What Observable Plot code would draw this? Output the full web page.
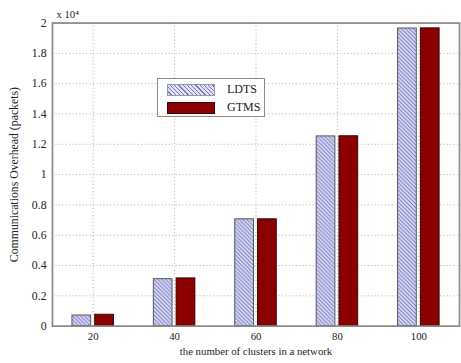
<!DOCTYPE html>
<html>
<head>
<meta charset="utf-8">
<script src="https://cdn.jsdelivr.net/npm/d3@7"></script>
<script src="https://cdn.jsdelivr.net/npm/@observablehq/plot@0.6"></script>
<style>
  html, body { margin: 0; padding: 0; background: #fff; overflow: hidden; }
  #wrap { position: relative; width: 461px; height: 363px; overflow: hidden; }
  #wrap svg, #wrap svg text { font-family: "Liberation Serif", "Times New Roman", serif !important; }
  #legend {
    position: absolute; left: 157px; top: 78px; width: 106px; height: 37px;
    border: 1.5px solid #8c8c8c; background: #fff; box-sizing: content-box;
    font-family: "Liberation Serif", serif; font-size: 12px; color: #222;
  }
  .item { position: absolute; left: 9px; display: flex; align-items: center; }
  .sw { width: 48px; height: 12px; border: 1px solid #444; box-sizing: border-box; margin-right: 12px; }
</style>
</head>
<body>
<div id="wrap"></div>
<script>
const clusters = [20, 40, 60, 80, 100];
const seriesNames = ["LDTS", "GTMS"];
const ldts = [0.07, 0.31, 0.705, 1.252, 1.964];
const gtms = [0.075, 0.315, 0.705, 1.253, 1.965];
const yTicks = [0, 0.2, 0.4, 0.6, 0.8, 1, 1.2, 1.4, 1.6, 1.8, 2];
const xLabel = "the number of clusters in a network";
const yLabel = "Communications Overhead (packets)";
const exponentLabel = "x 10\u2074";

const colors = { LDTS: "url(#hatch)", GTMS: "#8b0000" };
const strokes = { LDTS: "#555", GTMS: "#3a0000" };

const rows = [];
clusters.forEach((c, i) => {
  rows.push({ cluster: c, series: "LDTS", value: ldts[i] });
  rows.push({ cluster: c, series: "GTMS", value: gtms[i] });
});

const gridStyle = { stroke: "#aaa", strokeOpacity: 1, strokeDasharray: "1,2.5", strokeWidth: 1 };
const serif = "Liberation Serif, Times New Roman, serif";

const svg = Plot.plot({
  width: 470,
  height: 363,
  marginLeft: 53,
  marginRight: 2,
  marginTop: 23,
  marginBottom: 31,
  style: { fontFamily: serif, fontSize: "12px", color: "#222", background: "transparent" },
  x: { type: "linear", domain: [10, 110] },
  y: { domain: [0, 2] },
  marks: [
    Plot.gridY(yTicks, gridStyle),
    Plot.gridX(clusters, gridStyle),
    Plot.rect(rows, {
      x1: d => d.series === "LDTS" ? d.cluster - 5.1 : d.cluster + 0.5,
      x2: d => d.series === "LDTS" ? d.cluster - 0.5 : d.cluster + 5.1,
      y1: 0,
      y2: "value",
      fill: d => colors[d.series],
      stroke: d => strokes[d.series],
      strokeWidth: 1
    }),
    Plot.frame({ stroke: "#8c8c8c", strokeWidth: 1.8 }),
    Plot.axisY(yTicks, {
      tickSize: 0, tickPadding: 6, tickFormat: d => String(d),
      label: yLabel, labelAnchor: "center", labelOffset: 44, labelArrow: "none",
      fontSize: 12, fontFamily: serif
    }),
    Plot.axisX(clusters, {
      tickSize: 0, tickPadding: 6, tickFormat: d => String(d),
      label: xLabel, labelAnchor: "center", labelOffset: 29, labelArrow: "none",
      fontSize: 11, fontFamily: serif
    }),
    Plot.text([exponentLabel], {
      frameAnchor: "top-left", text: d => d, dx: 4, dy: -13, textAnchor: "start", fontSize: 11, fontFamily: serif
    })
  ]
});

const defs = d3.select(svg).insert("defs", ":first-child");
const pat = defs.append("pattern")
  .attr("id", "hatch").attr("patternUnits", "userSpaceOnUse")
  .attr("width", 4).attr("height", 4);
pat.append("rect").attr("width", 4).attr("height", 4).attr("fill", "#e2e2f6");
pat.append("path").attr("d", "M-1,-1 L5,5 M3,-1 L5,1 M-1,3 L1,5")
  .attr("stroke", "#7377c4").attr("stroke-width", 1.1);

const wrap = document.getElementById("wrap");
wrap.appendChild(svg);

const legend = document.createElement("div");
legend.id = "legend";
seriesNames.forEach((name, i) => {
  const item = document.createElement("div");
  item.className = "item";
  item.style.top = (3 + i * 18) + "px";
  const sw = document.createElement("div");
  sw.className = "sw";
  if (name === "LDTS") {
    sw.style.background = "repeating-linear-gradient(45deg, #e2e2f6 0 2px, #7377c4 2px 3px)";
    sw.style.borderColor = "#999";
  } else {
    sw.style.background = colors[name];
    sw.style.borderColor = "#3a0000";
  }
  const lab = document.createElement("span");
  lab.textContent = name;
  item.appendChild(sw);
  item.appendChild(lab);
  legend.appendChild(item);
});
wrap.appendChild(legend);
</script>
</body>
</html>
